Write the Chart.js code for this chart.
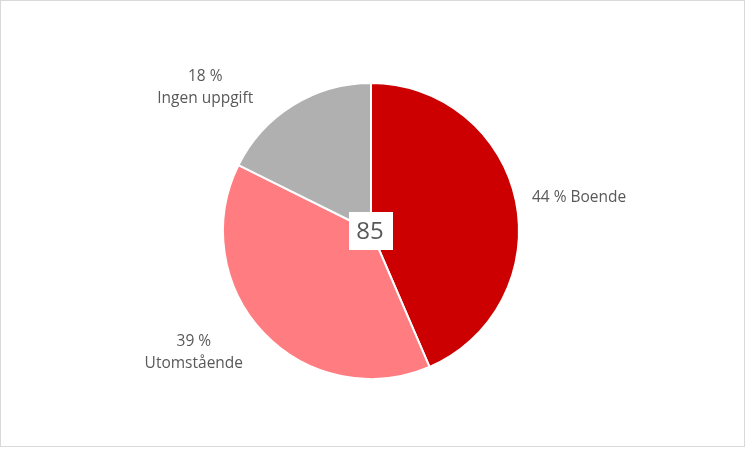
<!DOCTYPE html>
<html><head><meta charset="utf-8">
<script src="https://cdn.jsdelivr.net/npm/chart.js@4/dist/chart.umd.min.js"></script>
<style>
html,body{margin:0;padding:0;background:#fff;}
#wrap{position:relative;width:746px;height:449px;}
</style></head>
<body><div id="wrap"><canvas id="c" width="746" height="449"></canvas></div>
<script>
const categories = ['Boende', 'Utomstående', 'Ingen uppgift'];
const values = [37, 33, 15];
const colors = ['#CC0000', '#FF7C80', '#B0B0B0'];

const total = values.reduce((a, b) => a + b, 0);
const pct = values.map(v => Math.round(v / total * 100));
const labelLines = [
  [pct[0] + ' % ' + categories[0]],
  [pct[1] + ' %', categories[1]],
  [pct[2] + ' %', categories[2]]
];

const FONT = '15.5px "Open Sans", Lato, sans-serif';
const TEXT = '#595959';

const decor = {
  id: 'decor',
  beforeDraw(chart) {
    const ctx = chart.ctx;
    ctx.save();
    ctx.fillStyle = '#fff';
    ctx.fillRect(0, 0, chart.width, chart.height);
    ctx.strokeStyle = '#D9D9D9';
    ctx.lineWidth = 1;
    ctx.strokeRect(0.5, 0.5, 744, 446);
    ctx.restore();
  },
  afterDraw(chart, args, opts) {
    const ctx = chart.ctx;
    const meta = chart.getDatasetMeta(0);
    ctx.save();
    ctx.font = FONT;
    ctx.fillStyle = TEXT;
    ctx.textBaseline = 'middle';
    ctx.textAlign = 'center';
    const lh = 22;
    meta.data.forEach((arc, i) => {
      const p = arc.getProps(['x', 'y', 'startAngle', 'endAngle', 'outerRadius'], true);
      const mid = (p.startAngle + p.endAngle) / 2;
      const dx = Math.cos(mid), dy = Math.sin(mid);
      const lines = labelLines[i];
      const w = Math.max(...lines.map(l => ctx.measureText(l).width));
      const h = lines.length * lh;
      const ext = Math.abs(dx) * w / 2 + Math.abs(dy) * h / 2;
      const r = p.outerRadius + opts.gap[i] + ext;
      const nx = opts.nudge[i];
      const cx = p.x + dx * r + nx[0];
      const cy = p.y + dy * r + nx[1];
      lines.forEach((l, k) => {
        ctx.fillText(l, cx, cy - h / 2 + lh / 2 + k * lh);
      });
    });
    // centre total box
    const a0 = meta.data[0];
    const bx = a0.x, by = a0.y;
    ctx.font = '24px "Open Sans", Lato, sans-serif';
    ctx.fillStyle = '#fff';
    ctx.fillRect(bx - 22, by - 19, 44, 38);
    ctx.fillStyle = TEXT;
    ctx.fillText(String(total), bx - 1, by + 1);
    ctx.restore();
  }
};

new Chart(document.getElementById('c'), {
  type: 'pie',
  data: {
    labels: categories,
    datasets: [{
      data: values,
      backgroundColor: colors,
      borderColor: '#fff',
      borderWidth: 2,
      hoverBorderWidth: 2
    }]
  },
  options: {
    responsive: false,
    animation: false,
    layout: { padding: { top: 82, bottom: 69, left: 222, right: 226 } },
    plugins: {
      legend: { display: false },
      tooltip: { enabled: false },
      decor: { gap: [16, 12, 28], nudge: [[0, 9], [-24, -23], [-50, 44]] }
    }
  },
  plugins: [decor]
});
</script>
</body></html>
